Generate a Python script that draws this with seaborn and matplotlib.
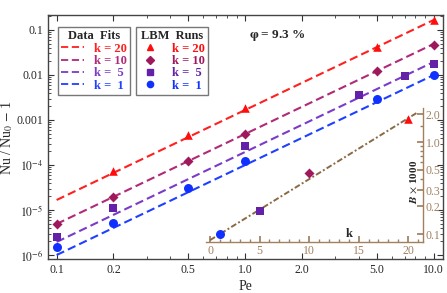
import pandas as pd
import matplotlib
matplotlib.use("Agg")
import matplotlib.pyplot as plt
import seaborn as sns
from matplotlib.lines import Line2D
from matplotlib.ticker import FixedLocator, FixedFormatter, NullFormatter

# LBM runs: Pe vs Nu/Nu0 - 1
pe_k20 = [0.2, 0.5, 1.0, 5.0, 10.0]
nu_k20 = [7.4e-5, 4.6e-4, 1.85e-3, 0.042, 0.167]
pe_k10 = [0.1, 0.2, 0.5, 1.0, 5.0, 10.0]
nu_k10 = [4.9e-6, 1.95e-5, 1.23e-4, 4.9e-4, 0.0123, 0.047]
pe_k5 = [0.1, 0.2, 1.0, 4.0, 7.0, 10.0]
nu_k5 = [2.5e-6, 1.1e-5, 2.6e-4, 3.6e-3, 9.5e-3, 0.0175]
pe_k1 = [0.1, 0.2, 0.5, 1.0, 5.0, 10.0]
nu_k1 = [1.5e-6, 5.1e-6, 3.1e-5, 1.23e-4, 2.9e-3, 0.01]

# fitted lines (end points)
fit_pe = [0.1, 10.0]
fit_k20 = [1.67e-5, 0.167]
fit_k10 = [4.9e-6, 0.049]
fit_k5 = [1.95e-6, 0.0195]
fit_k1 = [1.0e-6, 0.01]

# inset: B x 1000 vs k
inset_k = [1, 5, 10, 20]
inset_b = [0.1, 0.18, 0.46, 1.78]
inset_fit_k = [0, 21]
inset_fit_b = [0.086, 2.12]

labels = ["k = 20", "k = 10", "k =  5", "k =  1"]
point_colors = ["#ff0d0d", "#a0185c", "#6420a8", "#1030ff"]
line_colors = ["#ff2020", "#b02a78", "#7a3cc8", "#2040ff"]
markers = ["^", "D", "s", "o"]
marker_sizes = [38, 26, 26, 42]
brown = "#8a6a45"
tan = "#a08060"

sns.set_theme(style="ticks")
plt.rcParams["font.family"] = ["Liberation Serif", "DejaVu Serif"]
plt.rcParams["mathtext.fontset"] = "stix"

fig = plt.figure(figsize=(4.47, 2.93), dpi=100)
ax = fig.add_axes([0.1074, 0.116, 0.8837, 0.8328])

runs = [(pe_k20, nu_k20), (pe_k10, nu_k10), (pe_k5, nu_k5), (pe_k1, nu_k1)]
fits = [fit_k20, fit_k10, fit_k5, fit_k1]

for i in range(4):
    df_fit = pd.DataFrame({"Pe": fit_pe, "Nu": fits[i]})
    sns.lineplot(data=df_fit, x="Pe", y="Nu", ax=ax, color=line_colors[i],
                 lw=1.5, dashes=False, linestyle=(0, (4, 2)))
    df_run = pd.DataFrame({"Pe": runs[i][0], "Nu": runs[i][1]})
    sns.scatterplot(data=df_run, x="Pe", y="Nu", ax=ax, color=point_colors[i],
                    marker=markers[i], s=marker_sizes[i], linewidth=0, zorder=5)

ax.set_xscale("log")
ax.set_yscale("log")
ax.set_xlim(0.09, 11.2)
ax.set_ylim(0.815e-6, 0.215)

xt = [0.1, 0.2, 0.5, 1.0, 2.0, 5.0, 10.0]
ax.xaxis.set_major_locator(FixedLocator(xt))
ax.xaxis.set_major_formatter(FixedFormatter(["0.1", "0.2", "0.5", "1.0", "2.0", "5.0", "10.0"]))
ax.xaxis.set_minor_locator(FixedLocator([0.3, 0.4, 0.6, 0.7, 0.8, 0.9, 3, 4, 6, 7, 8, 9]))
ax.xaxis.set_minor_formatter(NullFormatter())
yt = [1e-6, 1e-5, 1e-4, 1e-3, 1e-2, 1e-1]
ax.yaxis.set_major_locator(FixedLocator(yt))
ax.yaxis.set_major_formatter(FixedFormatter(["$10^{-6}$", "$10^{-5}$", "$10^{-4}$", "0.001", "0.01", "0.1"]))
ymin = []
for d in [1e-6, 1e-5, 1e-4, 1e-3, 1e-2, 1e-1]:
    for m in range(2, 10):
        ymin.append(d * m)
ax.yaxis.set_minor_locator(FixedLocator(ymin))
ax.yaxis.set_minor_formatter(NullFormatter())
ax.tick_params(which="both", direction="in", top=True, right=True, labelsize=8.5, color="#333333")
ax.tick_params(which="major", length=4, width=0.8)
ax.tick_params(which="minor", length=2, width=0.6)
for s in ax.spines.values():
    s.set_color("#444444")
    s.set_linewidth(1.0)

ax.set_xlabel("Pe", fontsize=10, labelpad=3)
ax.set_ylabel("Nu / Nu$_0$ $-$ 1", fontsize=10)
ax.yaxis.set_label_coords(-0.084, 0.5)

# legends
fit_handles = [Line2D([], [], color=c, lw=1.3, linestyle=(0, (4, 2))) for c in line_colors]
run_handles = [Line2D([], [], color=c, marker=m, lw=0, markersize=4.5)
               for c, m in zip(point_colors, markers)]
leg_kw = dict(loc="upper left", fontsize=9, title_fontsize=9, fancybox=False,
              edgecolor="#777777", framealpha=1, handlelength=1.8, handletextpad=0.8,
              labelspacing=0.03, borderpad=0.25, borderaxespad=0)
leg1 = ax.legend(fit_handles, labels, title="Data  Fits", bbox_to_anchor=(0.025, 0.95),
                 labelcolor=line_colors, **leg_kw)
leg1.get_title().set_fontweight("bold")
for t in leg1.get_texts():
    t.set_fontweight("bold")
ax.add_artist(leg1)
leg2 = ax.legend(run_handles, labels, title="LBM  Runs", bbox_to_anchor=(0.223, 0.95),
                 labelcolor=point_colors, **leg_kw)
leg2.get_title().set_fontweight("bold")
for t in leg2.get_texts():
    t.set_fontweight("bold")

ax.text(0.51, 0.918, r"$\boldsymbol{\varphi}$ = 9.3 %", transform=ax.transAxes,
        fontsize=9.5, fontweight="bold", ha="left", va="center")

# inset
ins = fig.add_axes([0.461, 0.174, 0.4855, 0.457])
ins.patch.set_alpha(0)
df_ifit = pd.DataFrame({"k": inset_fit_k, "B": inset_fit_b})
sns.lineplot(data=df_ifit, x="k", y="B", ax=ins, color=brown, lw=1.4,
             linestyle=(0, (3, 1.2, 1, 1.2)))
for i, kk in enumerate([20, 10, 5, 1]):
    j = inset_k.index(kk)
    ins.scatter([inset_k[j]], [inset_b[j]], color=point_colors[i], marker=markers[i],
                s=marker_sizes[i], linewidth=0, zorder=5)
ins.set_yscale("log")
ins.set_xlim(-0.4, 21.5)
ins.set_ylim(0.082, 2.34)
ins.xaxis.set_major_locator(FixedLocator([0, 5, 10, 15, 20]))
ins.xaxis.set_minor_locator(FixedLocator([k for k in range(0, 22) if k % 5 != 0]))
ins.xaxis.set_minor_formatter(NullFormatter())
ins.yaxis.set_major_locator(FixedLocator([0.1, 0.2, 0.3, 0.5, 1.0, 2.0]))
ins.yaxis.set_major_formatter(FixedFormatter(["0.1", "0.2", "0.3", "0.5", "1.0", "2.0"]))
ins.yaxis.set_minor_locator(FixedLocator([0.4, 0.6, 0.7, 0.8, 0.9, 1.5]))
ins.yaxis.set_minor_formatter(NullFormatter())
ins.yaxis.tick_right()
ins.yaxis.set_label_position("right")
ins.spines["top"].set_visible(False)
ins.spines["left"].set_visible(False)
for s in ["bottom", "right"]:
    ins.spines[s].set_color(tan)
    ins.spines[s].set_linewidth(1.0)
ins.tick_params(which="both", direction="in", colors=tan, labelsize=8.5, pad=2)
ins.tick_params(which="major", length=4)
ins.tick_params(which="minor", length=2)
ins.set_xlabel("")
ins.set_ylabel("")
ins.text(0.66, 0.06, "k", transform=ins.transAxes, fontsize=9, fontweight="bold",
         ha="center", va="center")
ins.text(0.955, 0.45, r"$\boldsymbol{B}$ $\times$ 1000", transform=ins.transAxes,
         fontsize=8, fontweight="bold", rotation=90, ha="center", va="center")

fig.savefig("out.png", dpi=100)
